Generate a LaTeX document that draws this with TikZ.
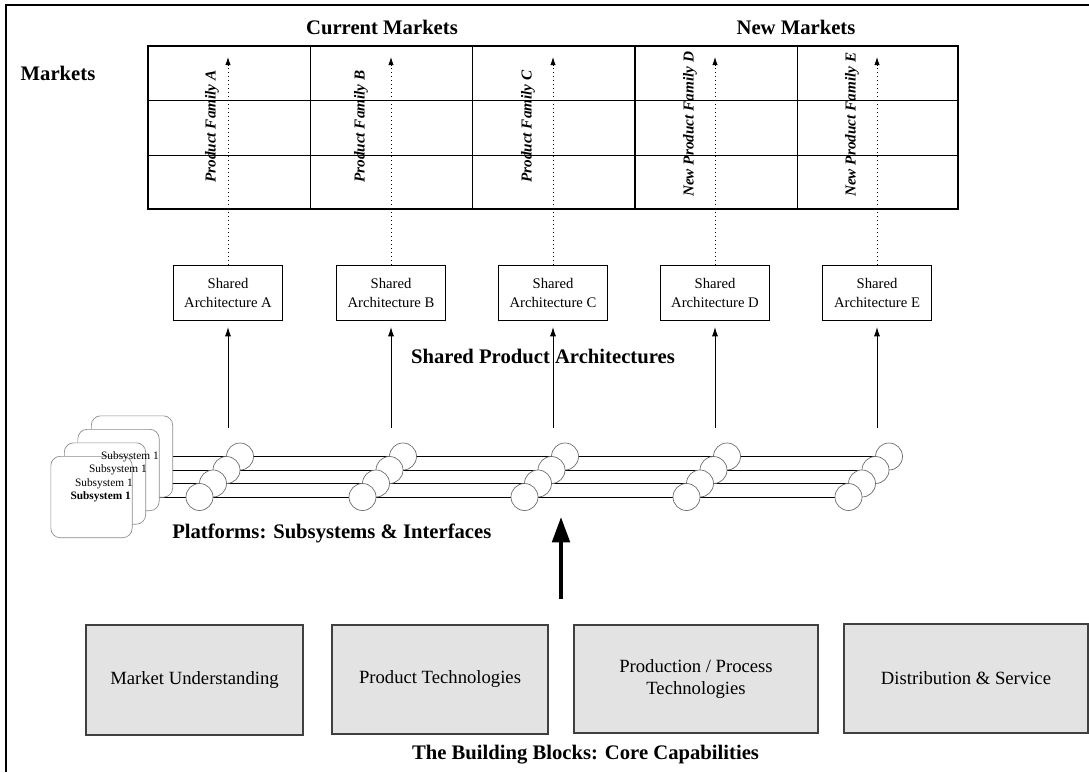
\documentclass[tikz,border=0pt]{standalone}
\usepackage{fontspec}
\setmainfont{Liberation Serif}
\usetikzlibrary{arrows.meta,backgrounds}
\begin{document}
\begin{tikzpicture}[x=0.75pt,y=-0.75pt,
  hdr/.style={font=\bfseries\fontsize{15.5}{18}\selectfont, inner sep=0},
  famlabel/.style={font=\bfseries\itshape\fontsize{11.4}{13}\selectfont, rotate=90, anchor=west, inner sep=0},
  archbox/.style={draw, line width=0.8pt, fill=white, minimum width=81.75pt, minimum height=41.25pt, align=center, font=\fontsize{11}{14}\selectfont, inner sep=1pt},
  card/.style={draw=black!45, line width=0.5pt, fill=white, rounded corners=7pt, minimum width=61pt, minimum height=61pt, inner sep=0},
  subsys/.style={font=\fontsize{8.5}{10}\selectfont, inner sep=0, anchor=east},
  iface/.style={circle, draw=black!60, line width=0.5pt, fill=white, minimum size=20.25pt, inner sep=0},
  bus/.style={line width=0.7pt},
  block/.style={draw=black!75, line width=0.9pt, fill=black!11, align=center, font=\fontsize{14}{16}\selectfont},
  dotarrow/.style={line width=0.6pt, dash pattern=on 0.7pt off 2.3pt, -{Latex[length=6pt,width=4pt]}},
  uparrow/.style={line width=0.6pt, -{Latex[length=7pt,width=4.5pt]}},
  bigarrow/.style={line width=3pt, -{Triangle[length=19pt,width=13pt]}}
]
\useasboundingbox (0,0) rectangle (1089,772);

% page frame (top and left rules)
\draw[line width=1.9pt] (6,772) -- (6,5) -- (1089,5);

% headings
\node[hdr] (markets) at (58,73) {Markets};
\node[hdr] (curmk) at (382,27) {Current Markets};
\node[hdr] (newmk) at (796,27) {New Markets};

% market grid
\draw[line width=0.6pt] (310,46) -- (310,209) (472,46) -- (472,209) (797,46) -- (797,209)
                        (148,100) -- (958,100) (148,155) -- (958,155);
\draw[line width=2.2pt] (635,46) -- (635,209);
\draw[line width=2.2pt] (148,46) rectangle (958,209);

% product family labels
\node[famlabel] (fA) at (212,183) {Product Family A};
\node[famlabel] (fB) at (361,183) {Product Family B};
\node[famlabel] (fC) at (528,183) {Product Family C};
\node[famlabel] (fD) at (690,197) {New Product Family D};
\node[famlabel] (fE) at (852,197) {New Product Family E};

% shared architectures
\foreach \g/\x in {A/228,B/391,C/553,D/715,E/877} {
  \node[archbox] (s\g) at (\x,293) {Shared\\Architecture \g};
  \coordinate (t\g) at (\x,57);
  \coordinate (u\g) at (\x,428);
  \draw[dotarrow] (s\g.north) -- (t\g);
  \draw[uparrow, shorten >=4.5pt] (u\g) -- (u\g |- s\g.south);
}
\node[hdr] (spa) at (543,356) {Shared Product Architectures};

% subsystem cards
\node[card] (card4) at (132,456.5) {};
\node[card] (card3) at (118.5,470) {};
\node[card] (card2) at (105,483.5) {};
\node[card] (card1) at (91.5,497) {};
\node[subsys] (ss4) at (159,457) {Subsystem 1};
\node[subsys] (ss3) at (147,470) {Subsystem 1};
\node[subsys] (ss2) at (133,483.5) {Subsystem 1};
\node[subsys, font=\bfseries\fontsize{8.5}{10}\selectfont] (ss1) at (131,497) {Subsystem 1};

% interfaces
\foreach \g/\x in {A/240,B/403,C/565,D/727,E/889} {
  \node[iface] (i\g1) at (\x,456.5) {};
  \node[iface] (i\g2) at (\x-13.5,470) {};
  \node[iface] (i\g3) at (\x-27,483.5) {};
  \node[iface] (i\g4) at (\x-40.5,497) {};
}
\begin{scope}[on background layer]
  \draw[bus] (card4.east) -- (iE1.center);
  \draw[bus] (card3.east) -- (iE2.center);
  \draw[bus] (card2.east) -- (iE3.center);
  \draw[bus] (card1.east) -- (iE4.center);
\end{scope}
\node[hdr, anchor=west] (plat) at (172,533) {Platforms: Subsystems \& Interfaces};

% core capabilities
\coordinate (base) at (561,599);
\coordinate (platin) at (561,517);
\draw[bigarrow] (base) -- (platin);

\node[block, minimum width=162.75pt, minimum height=82.5pt] (b1) at (194.5,680) {Market Understanding};
\node[block, minimum width=162pt, minimum height=81.75pt] (b2) at (440,679.5) {Product Technologies};
\node[block, minimum width=183pt, minimum height=81pt] (b3) at (696,679) {Production / Process\\Technologies};
\node[block, minimum width=183pt, minimum height=81.75pt] (b4) at (966,678.5) {Distribution \& Service};
\node[hdr] (core) at (585.5,755) {The Building Blocks: Core Capabilities};
\end{tikzpicture}
\end{document}
